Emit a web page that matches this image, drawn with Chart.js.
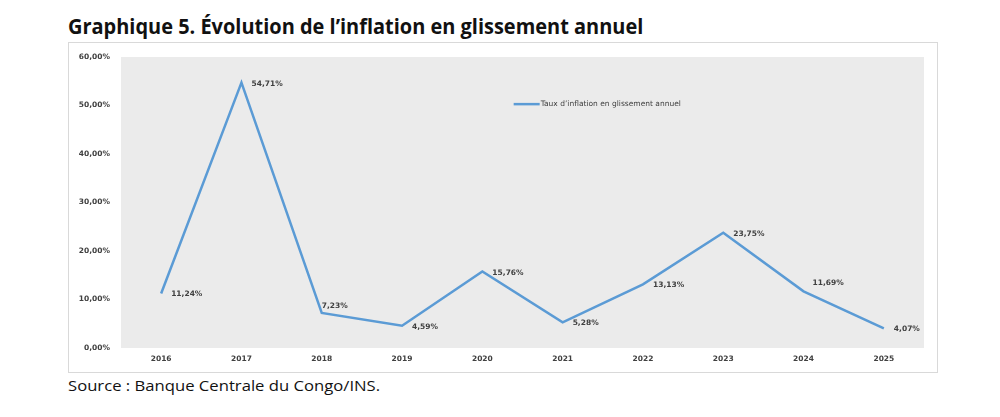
<!DOCTYPE html>
<html>
<head>
<meta charset="utf-8">
<script src="https://cdn.jsdelivr.net/npm/chart.js@4.4.1/dist/chart.umd.min.js"></script>
<style>
  body { margin: 0; background: #fff; width: 1000px; height: 417px; overflow: hidden; position: relative; font-family: "DejaVu Sans", sans-serif; }
  #title { position: absolute; left: 68px; top: 12px; font-family: "Open Sans", sans-serif; font-weight: bold; font-size: 21px; color: #111; white-space: nowrap; transform-origin: 0 0; }
  #source { position: absolute; left: 68px; top: 375px; font-family: "Open Sans", sans-serif; font-size: 15px; color: #111; white-space: nowrap; transform-origin: 0 0; }
  #box { position: absolute; left: 68px; top: 42px; width: 868px; height: 329px; border: 1px solid #d9d9d9; }
</style>
</head>
<body>
<div id="title">Graphique 5. Évolution de l’inflation en glissement annuel</div>
<div id="box"><canvas id="charto"></canvas></div>
<div id="source">Source : Banque Centrale du Congo/INS.</div>
<script>
// fit the heading widths to the original
function fit(id, w) {
    const el = document.getElementById(id);
    el.style.transform = 'scaleX(' + (w / el.offsetWidth) + ')';
}
fit('title', 575);
fit('source', 312);

const years = ['2016', '2017', '2018', '2019', '2020', '2021', '2022', '2023', '2024', '2025'];
const inflation = [11.24, 54.71, 7.23, 4.59, 15.76, 5.28, 13.13, 23.75, 11.69, 4.07];
const yTicks = [0, 10, 20, 30, 40, 50, 60];
const seriesName = 'Taux d’inflation en glissement annuel';

const pct = v => Number(v).toFixed(2).replace('.', ',') + '%';

// label nudges (dx, dy) per point, default sits right of the point
const nudge = { 2: [0, -7], 8: [9, -8] };

const bgPlugin = {
    id: 'plotBg',
    beforeDraw(c) {
        const a = c.chartArea, ctx = c.ctx;
        ctx.save();
        ctx.fillStyle = '#ebebeb';
        ctx.fillRect(a.left, a.top, a.right - a.left, a.bottom - a.top);
        ctx.restore();
    }
};

const labelPlugin = {
    id: 'valLabels',
    afterDatasetsDraw(c) {
        const ctx = c.ctx;
        const meta = c.getDatasetMeta(0);
        ctx.save();
        ctx.font = 'bold 7.5px "DejaVu Sans"';
        ctx.fillStyle = '#404040';
        ctx.textBaseline = 'middle';
        ctx.textAlign = 'left';
        meta.data.forEach((pt, i) => {
            const n = nudge[i] || [10, 1];
            ctx.fillText(pct(inflation[i]), pt.x + n[0], pt.y + n[1]);
        });
        // y tick labels, right aligned against the plot
        const ys = c.scales.y;
        ctx.textAlign = 'right';
        yTicks.forEach(v => ctx.fillText(pct(v), c.chartArea.left - 11, ys.getPixelForValue(v)));
        // legend inside the plot
        const a = c.chartArea;
        const lx = a.left + 0.489 * (a.right - a.left);
        const ly = a.top + 0.162 * (a.bottom - a.top);
        ctx.textAlign = 'left';
        ctx.strokeStyle = '#5b9bd5';
        ctx.lineWidth = 2.5;
        ctx.beginPath();
        ctx.moveTo(lx, ly);
        ctx.lineTo(lx + 26, ly);
        ctx.stroke();
        ctx.font = '7.5px "DejaVu Sans"';
        ctx.fillText(seriesName, lx + 27, ly);
        ctx.restore();
    }
};

new Chart(document.querySelector('#charto').getContext('2d'), {
    type: 'line',
    data: {
        labels: years,
        datasets: [{
            label: seriesName,
            data: inflation,
            borderColor: '#5b9bd5',
            borderWidth: 2.5,
            pointRadius: 0,
            tension: 0
        }]
    },
    options: {
        responsive: true,
        maintainAspectRatio: false,
        animation: false,
        layout: { padding: { left: 7, top: 14, right: 13, bottom: 2 } },
        plugins: { legend: { display: false }, tooltip: { enabled: false } },
        scales: {
            x: {
                offset: true,
                grid: { display: false, drawTicks: false },
                border: { display: false },
                ticks: { color: '#404040', font: { family: 'DejaVu Sans', size: 7.5, weight: 'bold' }, padding: 7, maxRotation: 0 },
                afterFit(s) { s.height = 22; }
            },
            y: {
                min: 0,
                max: 60,
                afterBuildTicks(s) { s.ticks = yTicks.map(v => ({ value: v })); },
                grid: { display: false },
                border: { display: false },
                ticks: { display: false },
                afterFit(s) { s.width = 45; }
            }
        }
    },
    plugins: [bgPlugin, labelPlugin]
});
</script>
</body>
</html>
